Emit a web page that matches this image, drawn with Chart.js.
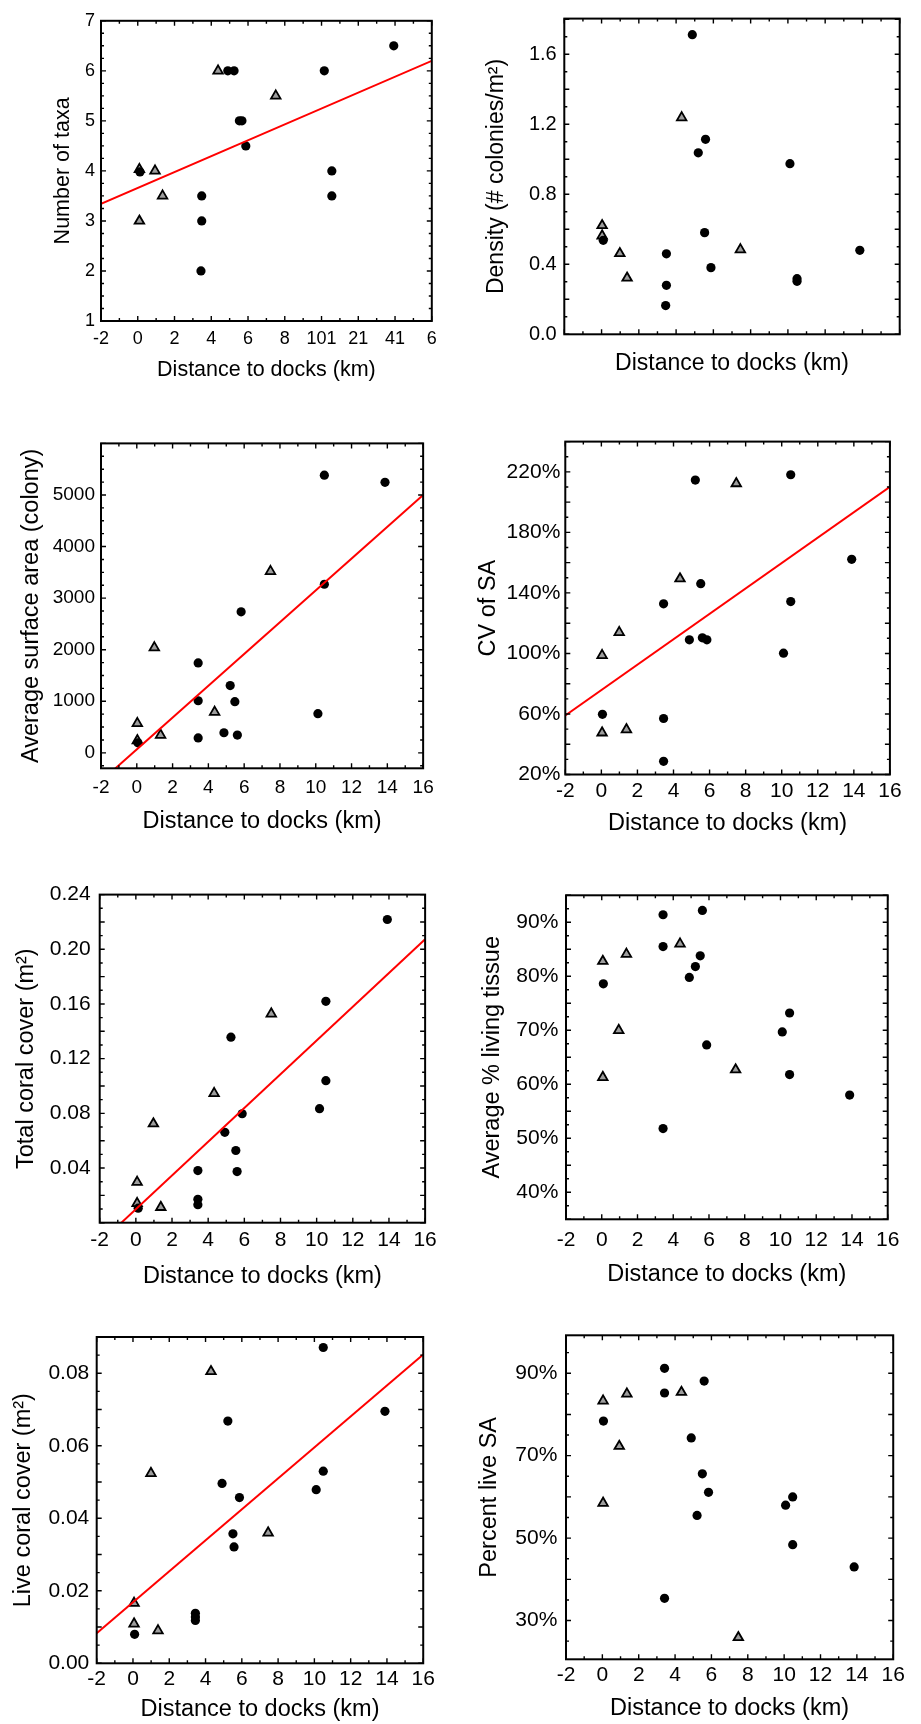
<!DOCTYPE html>
<html>
<head>
<meta charset="utf-8">
<script src="https://cdn.jsdelivr.net/npm/chart.js@4.4.1/dist/chart.umd.min.js"></script>
<style>
  html, body { margin: 0; padding: 0; background: #fff; overflow: hidden; }
  #page { position: relative; width: 921px; height: 1724px; overflow: hidden; background: #fff; }
  #page canvas { position: absolute; }
</style>
</head>
<body>
<div id="page"></div>
<script>
// shared x axis: distance to docks (km)
const distTicks = [-2, 0, 2, 4, 6, 8, 10, 12, 14, 16];
const distLabels = ['-2', '0', '2', '4', '6', '8', '10', '12', '14', '16'];
// the first panel prints its last labels run together
const distLabelsTaxa = ['-2', '0', '2', '4', '6', '8', '101', '21', '41', '6'];

// Number of taxa
const taxaCircleX = [0.12, 3.48, 3.48, 3.44, 4.9, 5.24, 5.53, 5.67, 5.88, 10.15, 10.56, 10.56, 13.93];
const taxaCircleY = [3.98, 3.5, 3.0, 2.0, 6.0, 6.0, 5.0, 5.0, 4.5, 6.0, 4.0, 3.5, 6.5];
const taxaTriX = [0.09, 0.94, 1.35, 0.09, 4.37, 7.51];
const taxaTriY = [4.03, 4.0, 3.5, 3.0, 6.0, 5.5];
const taxaFit = [3.658, 0.1589]; // intercept, slope
const taxaTicks = [1, 2, 3, 4, 5, 6, 7];
const taxaLabels = ['1', '2', '3', '4', '5', '6', '7'];

// Density (# colonies/m2)
const densCircleX = [4.87, 5.58, 5.19, 10.11, 0.09, 3.48, 3.48, 3.44, 5.53, 5.87, 13.86, 10.49, 10.49];
const densCircleY = [1.712, 1.114, 1.037, 0.975, 0.537, 0.46, 0.28, 0.164, 0.581, 0.381, 0.48, 0.318, 0.303];
const densTriX = [4.30, 0.03, 0.03, 0.98, 1.37, 7.45];
const densTriY = [1.238, 0.622, 0.563, 0.462, 0.322, 0.484];
const densTicks = [0, 0.4, 0.8, 1.2, 1.6];
const densLabels = ['0.0', '0.4', '0.8', '1.2', '1.6'];

// Average surface area (colony)
const saCircleX = [10.48, 13.87, 10.48, 5.83, 3.43, 5.22, 3.43, 5.48, 10.12, 4.87, 5.62, 3.43, 0.06];
const saCircleY = [5383, 5245, 3269, 2735, 1744, 1305, 1010, 991, 759, 389, 345, 289, 194];
const saTriX = [7.47, 0.98, 4.35, 0.03, 1.33, 0.03];
const saTriY = [3519, 2039, 790, 571, 345, 238];
const saFit = [67, 308.3];
const saTicks = [0, 1000, 2000, 3000, 4000, 5000];
const saLabels = ['0', '1000', '2000', '3000', '4000', '5000'];

// CV of SA (%)
const cvCircleX = [5.21, 10.50, 13.88, 5.51, 3.45, 10.50, 4.88, 5.60, 5.85, 10.10, 0.06, 3.45, 3.45];
const cvCircleY = [214.6, 218.1, 162.2, 146.1, 132.8, 134.3, 109.0, 110.3, 109.0, 100.2, 59.8, 57.0, 28.7];
const cvTriX = [7.48, 4.36, 0.99, 0.04, 0.04, 1.39];
const cvTriY = [212.3, 149.4, 113.9, 98.7, 47.6, 49.7];
const cvFit = [75.8, 8.394];
const cvTicks = [20, 60, 100, 140, 180, 220];
const cvLabels = ['20%', '60%', '100%', '140%', '180%', '220%'];

// Total coral cover (m2)
const tcCircleX = [13.91, 10.51, 5.26, 10.51, 10.16, 5.88, 4.92, 5.53, 5.60, 3.43, 3.43, 3.43, 0.13];
const tcCircleY = [0.2218, 0.1619, 0.1357, 0.1039, 0.0834, 0.0797, 0.0661, 0.0528, 0.0374, 0.0381, 0.0171, 0.0132, 0.0106];
const tcTriX = [7.49, 4.33, 0.97, 0.07, 0.07, 1.38];
const tcTriY = [0.1528, 0.0946, 0.0724, 0.0297, 0.0141, 0.0113];
const tcFit = [0.00987, 0.01234];
const tcTicks = [0.04, 0.08, 0.12, 0.16, 0.20, 0.24];
const tcLabels = ['0.04', '0.08', '0.12', '0.16', '0.20', '0.24'];

// Average % living tissue
const ltCircleX = [3.43, 5.63, 3.43, 5.51, 5.24, 4.90, 0.09, 10.51, 10.10, 5.87, 10.51, 13.87, 3.43];
const ltCircleY = [91.4, 92.2, 85.5, 83.8, 81.8, 79.8, 78.6, 73.2, 69.7, 67.3, 61.8, 58.0, 51.8];
const ltTriX = [4.38, 1.38, 0.06, 0.95, 7.49, 0.06];
const ltTriY = [86.0, 84.1, 82.8, 70.0, 62.7, 61.3];
const ltTicks = [40, 50, 60, 70, 80, 90];
const ltLabels = ['40%', '50%', '60%', '70%', '80%', '90%'];

// Live coral cover (m2)
const lcCircleX = [10.49, 13.89, 5.23, 10.49, 4.91, 10.10, 5.87, 5.51, 5.57, 3.44, 3.44, 3.44, 0.09];
const lcCircleY = [0.0871, 0.0695, 0.0668, 0.0530, 0.0496, 0.0479, 0.0457, 0.0357, 0.0321, 0.0138, 0.0128, 0.0118, 0.0080];
const lcTriX = [4.30, 0.99, 7.45, 0.06, 0.06, 1.38];
const lcTriY = [0.0805, 0.0524, 0.0360, 0.0166, 0.0109, 0.0090];
const lcFit = [0.01684, 0.004272];
const lcTicks = [0, 0.02, 0.04, 0.06, 0.08];
const lcLabels = ['0.00', '0.02', '0.04', '0.06', '0.08'];

// Percent live SA
const plCircleX = [3.42, 5.60, 3.42, 0.06, 4.89, 5.50, 5.84, 10.47, 10.08, 5.21, 10.47, 13.85, 3.42];
const plCircleY = [91.2, 88.1, 85.2, 78.4, 74.3, 65.6, 61.1, 60.0, 58.0, 55.5, 48.4, 43.0, 35.4];
const plTriX = [4.35, 1.35, 0.04, 0.93, 0.04, 7.48];
const plTriY = [85.4, 85.0, 83.3, 72.3, 58.5, 25.9];
const plTicks = [30, 50, 70, 90];
const plLabels = ['30%', '50%', '70%', '90%'];

const DIST_MIN = distTicks[0];
const DIST_MAX = distTicks[distTicks.length - 1];

Chart.defaults.font.family = '"Liberation Sans", Arial, sans-serif';
Chart.defaults.color = '#000';

// layout of each panel: plot rect [left, top, right, bottom] in page px
const panels = [
  { col: 0, rect: [101, 12, 437.3, 321], yMin: 1, yMax: 7, yTicks: taxaTicks, yLabels: taxaLabels, yMinor: 0.25, yMajor: 1,
    yTitle: 'Number of taxa', cx: taxaCircleX, cy: taxaCircleY, tx: taxaTriX, ty: taxaTriY, fit: taxaFit,
    xLabels: distLabelsTaxa, tickSize: 18, titleSize: 21.5, yPad: 6, xLabelY: 339, xTitleY: 370.5, yTitleX: 63 },
  { col: 1, rect: [564.3, 7.3, 900.7, 334.3], yMin: 0, yMax: 1.804, yTicks: densTicks, yLabels: densLabels, yMinor: 0.1, yMajor: 0.2,
    yTitle: 'Density (# colonies/m²)', cx: densCircleX, cy: densCircleY, tx: densTriX, ty: densTriY, fit: null,
    xLabels: null, tickSize: 20, titleSize: 23, yPad: 7.6, xLabelY: null, xTitleY: 364, yTitleX: 497 },
  { col: 0, rect: [101, 434, 435.7, 768.3], yMin: -300, yMax: 6000, yTicks: saTicks, yLabels: saLabels, yMinor: 250, yMajor: 1000,
    yTitle: 'Average surface area (colony)', cx: saCircleX, cy: saCircleY, tx: saTriX, ty: saTriY, fit: saFit,
    xLabels: distLabels, tickSize: 19, titleSize: 23.5, yPad: 6, xLabelY: 788, xTitleY: 822, yTitleX: 32 },
  { col: 1, rect: [565.3, 432.9, 900, 774.5], yMin: 20, yMax: 240, yTicks: cvTicks, yLabels: cvLabels, yMinor: 10, yMajor: 20,
    yTitle: 'CV of SA', cx: cvCircleX, cy: cvCircleY, tx: cvTriX, ty: cvTriY, fit: cvFit,
    xLabels: distLabels, tickSize: 21, titleSize: 23.5, yPad: 5, xLabelY: 791.5, xTitleY: 823.5, yTitleX: 489 },
  { col: 0, rect: [99.7, 881, 435.3, 1222.7], yMin: 0, yMax: 0.24, yTicks: tcTicks, yLabels: tcLabels, yMinor: 0.01, yMajor: 0.02,
    yTitle: 'Total coral cover (m²)', cx: tcCircleX, cy: tcCircleY, tx: tcTriX, ty: tcTriY, fit: tcFit,
    xLabels: distLabels, tickSize: 21, titleSize: 23.5, yPad: 9, xLabelY: 1240.5, xTitleY: 1276.5, yTitleX: 26.5 },
  { col: 1, rect: [566, 883.3, 901.7, 1219.3], yMin: 35, yMax: 95, yTicks: ltTicks, yLabels: ltLabels, yMinor: 2.5, yMajor: 5,
    yTitle: 'Average % living tissue', cx: ltCircleX, cy: ltCircleY, tx: ltTriX, ty: ltTriY, fit: null,
    xLabels: distLabels, tickSize: 21, titleSize: 23.5, yPad: 7.7, xLabelY: 1240.5, xTitleY: 1275, yTitleX: 493 },
  { col: 0, rect: [96.7, 1325, 432, 1663.3], yMin: 0, yMax: 0.09, yTicks: lcTicks, yLabels: lcLabels, yMinor: 0.005, yMajor: 0.01,
    yTitle: 'Live coral cover (m²)', cx: lcCircleX, cy: lcCircleY, tx: lcTriX, ty: lcTriY, fit: lcFit,
    xLabels: distLabels, tickSize: 21, titleSize: 23.5, yPad: 7.4, xLabelY: 1679, xTitleY: 1710, yTitleX: 24 },
  { col: 1, rect: [566, 1322.7, 901.3, 1659.3], yMin: 20.6, yMax: 99.2, yTicks: plTicks, yLabels: plLabels, yMinor: 5, yMajor: 10,
    yTitle: 'Percent live SA', cx: plCircleX, cy: plCircleY, tx: plTriX, ty: plTriY, fit: null,
    xLabels: distLabels, tickSize: 21, titleSize: 23.5, yPad: 8.7, xLabelY: 1675, xTitleY: 1708.5, yTitleX: 490 },
];

// box frame with inward ticks on all four sides
const frameTicks = {
  id: 'frameTicks',
  afterDatasetsDraw(chart, args, opts) {
    const { ctx, chartArea: a, scales: { x, y } } = chart;
    const marks = (scale, minor, major, draw) => {
      const start = Math.ceil(scale.min / minor - 1e-6);
      const end = Math.floor(scale.max / minor + 1e-6);
      for (let k = start; k <= end; k++) {
        const v = k * minor;
        const isMajor = Math.abs(v / major - Math.round(v / major)) < 1e-6;
        draw(scale.getPixelForValue(v), isMajor ? 5 : 3);
      }
    };
    ctx.save();
    ctx.strokeStyle = '#000';
    ctx.lineWidth = 1.4;
    ctx.beginPath();
    marks(x, opts.xMinor, opts.xMajor, (p, len) => {
      ctx.moveTo(p, a.bottom); ctx.lineTo(p, a.bottom - len);
      ctx.moveTo(p, a.top); ctx.lineTo(p, a.top + len);
    });
    marks(y, opts.yMinor, opts.yMajor, (p, len) => {
      ctx.moveTo(a.left, p); ctx.lineTo(a.left + len, p);
      ctx.moveTo(a.right, p); ctx.lineTo(a.right - len, p);
    });
    ctx.stroke();
    ctx.lineWidth = 2;
    ctx.strokeRect(a.left, a.top, a.right - a.left, a.bottom - a.top);
    ctx.restore();
  }
};

function pairs(xs, ys) {
  return xs.map((x, i) => ({ x, y: ys[i] }));
}

function fitPoints(fit) {
  const [a, b] = fit;
  return [DIST_MIN, DIST_MAX].map((x) => ({ x, y: a + b * x }));
}

function buildPanel(p) {
  const page = document.getElementById('page');
  const [L, T, R, B] = p.rect;
  const left = p.col === 0 ? 0 : 460;
  const top = Math.floor(T - 8);
  const width = Math.ceil(R - left) + 6;
  const height = Math.ceil(p.xTitleY - top + 0.6 * p.titleSize + 3);
  const xAxisH = height - (B - top);
  const yAxisW = L - left;

  const canvas = document.createElement('canvas');
  canvas.width = width;
  canvas.height = height;
  canvas.style.left = left + 'px';
  canvas.style.top = top + 'px';
  canvas.style.width = width + 'px';
  canvas.style.height = height + 'px';
  page.appendChild(canvas);

  const datasets = [];
  if (p.fit) {
    datasets.push({ data: fitPoints(p.fit), showLine: true, borderColor: '#ff0000', borderWidth: 2, pointRadius: 0, fill: false });
  }
  datasets.push({ data: pairs(p.cx, p.cy), pointStyle: 'circle', pointRadius: 4.6, backgroundColor: '#000', borderColor: '#000', borderWidth: 0 });
  datasets.push({ data: pairs(p.tx, p.ty), pointStyle: 'triangle', pointRadius: 5.5, backgroundColor: '#9d9d9d', borderColor: '#000', borderWidth: 1.8 });

  new Chart(canvas, {
    type: 'scatter',
    data: { datasets },
    options: {
      responsive: false,
      animation: false,
      devicePixelRatio: 1,
      events: [],
      layout: { padding: { left: 0, top: T - top, right: width - (R - left), bottom: 0 } },
      plugins: {
        legend: { display: false },
        tooltip: { enabled: false },
        frameTicks: { xMinor: 1, xMajor: 2, yMinor: p.yMinor, yMajor: p.yMajor },
      },
      scales: {
        x: {
          type: 'linear', min: DIST_MIN, max: DIST_MAX,
          grid: { display: false, drawTicks: false }, border: { display: false },
          afterBuildTicks: (s) => { s.ticks = distTicks.map((v) => ({ value: v })); },
          afterFit: (s) => { s.height = xAxisH; },
          ticks: {
            display: !!p.xLabels, autoSkip: false, maxRotation: 0, minRotation: 0,
            padding: p.xLabels ? p.xLabelY - B - 0.6 * p.tickSize : 0,
            font: { size: p.tickSize }, color: '#000',
            callback: (v, i) => (p.xLabels ? p.xLabels[i] : ''),
          },
          title: {
            display: true, text: 'Distance to docks (km)', color: '#000', font: { size: p.titleSize },
            padding: { top: 0, bottom: height - (p.xTitleY - top) - 0.6 * p.titleSize },
          },
        },
        y: {
          type: 'linear', min: p.yMin, max: p.yMax,
          grid: { display: false, drawTicks: false }, border: { display: false },
          afterBuildTicks: (s) => { s.ticks = p.yTicks.map((v) => ({ value: v })); },
          afterFit: (s) => { s.width = yAxisW; },
          ticks: {
            autoSkip: false, padding: p.yPad, font: { size: p.tickSize }, color: '#000',
            callback: (v, i) => p.yLabels[i],
          },
          title: {
            display: true, text: p.yTitle, color: '#000', font: { size: p.titleSize },
            padding: { top: p.yTitleX - left - 0.6 * p.titleSize, bottom: 0 },
          },
        },
      },
    },
    plugins: [frameTicks],
  });
}

panels.forEach(buildPanel);
</script>
</body>
</html>
